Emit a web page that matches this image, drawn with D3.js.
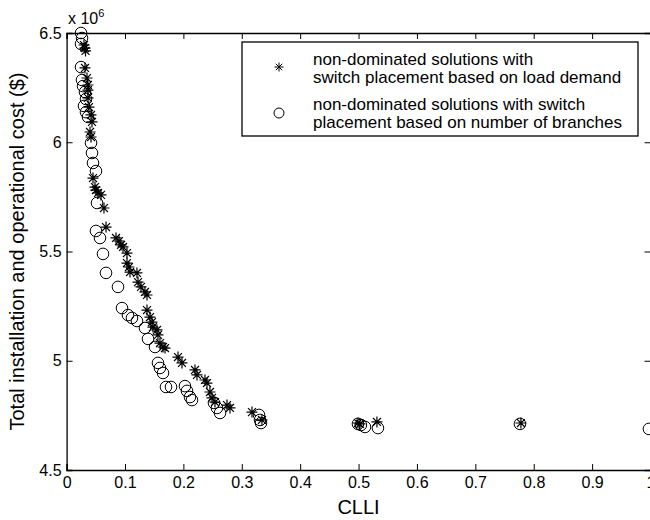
<!DOCTYPE html>
<html>
<head>
<meta charset="utf-8">
<script src="https://cdn.jsdelivr.net/npm/d3@7"></script>
<style>
  body { margin: 0; background: #fff; }
  text { font-family: "Liberation Sans", Arial, Helvetica, sans-serif; fill: #000; }
</style>
</head>
<body>
<div id="chart"></div>
<script>
// CLLI / cost pairs, cost in units of 10^6 $
var loadCLLI = [0.0298, 0.0315, 0.0324, 0.0315, 0.0349, 0.0366, 0.0366, 0.0366, 0.0384, 0.0418,
  0.0435, 0.0401, 0.0418, 0.0452, 0.0486, 0.0503, 0.0538, 0.0589, 0.0640, 0.0675,
  0.0846, 0.0897, 0.0932, 0.0966, 0.1034, 0.1034, 0.1068, 0.1086, 0.1205, 0.1223,
  0.1274, 0.1342, 0.1377, 0.1377, 0.1428, 0.1462, 0.1479, 0.1548, 0.1565, 0.1599,
  0.1651, 0.1685, 0.1908, 0.1976, 0.2199, 0.2233, 0.2370, 0.2404, 0.2455, 0.2490,
  0.2541, 0.2747, 0.2798, 0.3175, 0.3346, 0.4990, 0.5024, 0.5315, 0.7781];
var loadCost = [6.445, 6.431, 6.418, 6.340, 6.294, 6.262, 6.239, 6.203, 6.161, 6.125,
  6.093, 6.047, 6.024, 5.836, 5.795, 5.781, 5.768, 5.759, 5.699, 5.612,
  5.562, 5.548, 5.530, 5.521, 5.493, 5.447, 5.429, 5.406, 5.402, 5.360,
  5.338, 5.315, 5.301, 5.232, 5.200, 5.177, 5.154, 5.141, 5.118, 5.081,
  5.063, 5.058, 5.017, 4.990, 4.958, 4.935, 4.912, 4.898, 4.857, 4.830,
  4.811, 4.797, 4.784, 4.765, 4.729, 4.715, 4.711, 4.720, 4.715];

var branchCLLI = [0.0247, 0.0264, 0.0247, 0.0247, 0.0264, 0.0281, 0.0315, 0.0332, 0.0298, 0.0332,
  0.0366, 0.0418, 0.0435, 0.0452, 0.0503, 0.0521, 0.0503, 0.0572, 0.0623, 0.0675,
  0.0880, 0.0949, 0.1051, 0.1120, 0.1205, 0.1342, 0.1394, 0.1514, 0.1565, 0.1599,
  0.1651, 0.1702, 0.1788, 0.2027, 0.2062, 0.2113, 0.2147, 0.2524, 0.2575, 0.2627,
  0.3295, 0.3312, 0.3329, 0.4990, 0.5040, 0.5110, 0.5332, 0.7764, 0.9973];
var branchCost = [6.500, 6.477, 6.450, 6.344, 6.285, 6.257, 6.230, 6.198, 6.166, 6.138,
  6.116, 5.997, 5.951, 5.905, 5.868, 5.722, 5.594, 5.562, 5.489, 5.402,
  5.338, 5.241, 5.209, 5.196, 5.182, 5.150, 5.100, 5.063, 4.990, 4.967,
  4.944, 4.880, 4.880, 4.884, 4.862, 4.834, 4.820, 4.807, 4.784, 4.761,
  4.752, 4.729, 4.715, 4.711, 4.706, 4.697, 4.692, 4.711, 4.688];

var xTicks = [0, 0.1, 0.2, 0.3, 0.4, 0.5, 0.6, 0.7, 0.8, 0.9, 1];
var yTicks = [4.5, 5, 5.5, 6, 6.5];
var legendLines = [
  ["non-dominated solutions with", "switch placement based on load demand"],
  ["non-dominated solutions with switch", "placement based on number of branches"]
];

var svgWidth = 650;
var svgHeight = 520;
var margin = { top: 33, right: -0.5, bottom: 50, left: 66.6 };
var width = svgWidth - margin.left - margin.right;
var height = svgHeight - margin.top - margin.bottom;

var svg = d3.select("#chart")
  .append("svg")
  .attr("width", svgWidth)
  .attr("height", svgHeight);

var chartGroup = svg.append("g")
  .attr("transform", `translate(${margin.left}, ${margin.top})`);

var xScale = d3.scaleLinear().domain([0, 1]).range([0, width]);
var yScale = d3.scaleLinear().domain([4.5, 6.5]).range([height, 0]);

// asterisk marker: plus + x
function starPath(s) {
  var d = s * 0.72;
  return `M${-s},0L${s},0M0,${-s}L0,${s}M${-d},${-d}L${d},${d}M${-d},${d}L${d},${-d}`;
}

// axes with inward ticks, matlab style box
var bottomAxis = d3.axisBottom(xScale).tickValues(xTicks).tickSize(-6).tickPadding(7)
  .tickFormat(d3.format("~g"));
var leftAxis = d3.axisLeft(yScale).tickValues(yTicks).tickSize(-6).tickPadding(5)
  .tickFormat(d3.format("~g"));
var topAxis = d3.axisTop(xScale).tickValues(xTicks).tickSize(-6).tickFormat("");
var rightAxis = d3.axisRight(yScale).tickValues(yTicks).tickSize(-6).tickFormat("");

chartGroup.append("g")
  .attr("transform", `translate(0, ${height})`)
  .call(bottomAxis)
  .attr("font-size", 16);
chartGroup.append("g")
  .call(leftAxis)
  .attr("font-size", 16);
chartGroup.append("g").call(topAxis);
chartGroup.append("g").attr("transform", `translate(${width}, 0)`).call(rightAxis);

chartGroup.selectAll(".domain").attr("stroke", "#000").attr("stroke-width", 1.3);
chartGroup.selectAll(".tick line").attr("stroke", "#000");
chartGroup.selectAll(".tick text").attr("font-family", "Liberation Sans, Arial, sans-serif");

// points
var loadData = loadCLLI.map((v, i) => ({ x: v, y: loadCost[i] }));
var branchData = branchCLLI.map((v, i) => ({ x: v, y: branchCost[i] }));

chartGroup.selectAll(".branch")
  .data(branchData)
  .enter()
  .append("circle")
  .attr("class", "branch")
  .attr("cx", d => xScale(d.x))
  .attr("cy", d => yScale(d.y))
  .attr("r", 5.8)
  .attr("fill", "none")
  .attr("stroke", "#000")
  .attr("stroke-width", 1);

chartGroup.selectAll(".load")
  .data(loadData)
  .enter()
  .append("path")
  .attr("class", "load")
  .attr("transform", d => `translate(${xScale(d.x)}, ${yScale(d.y)})`)
  .attr("d", starPath(5.5))
  .attr("fill", "none")
  .attr("stroke", "#000")
  .attr("stroke-width", 1.2);

// exponent label
var expLabel = svg.append("text")
  .attr("x", 68)
  .attr("y", 24)
  .attr("font-size", 16);
expLabel.append("tspan").text("x 10");
expLabel.append("tspan").attr("font-size", 11).attr("dy", -7).text("6");

// axis titles
svg.append("text")
  .attr("x", margin.left + width / 2)
  .attr("y", 514)
  .attr("text-anchor", "middle")
  .attr("font-size", 20)
  .text("CLLI");

svg.append("text")
  .attr("transform", `translate(24, ${margin.top + height / 2}) rotate(-90)`)
  .attr("text-anchor", "middle")
  .attr("font-size", 20)
  .text("Total installation and operational cost ($)");

// legend
var legend = svg.append("g");
legend.append("rect")
  .attr("x", 242)
  .attr("y", 42)
  .attr("width", 396)
  .attr("height", 94)
  .attr("fill", "#fff")
  .attr("stroke", "#000")
  .attr("stroke-width", 1.3);

legend.append("path")
  .attr("transform", "translate(279, 67)")
  .attr("d", starPath(4.5))
  .attr("fill", "none")
  .attr("stroke", "#000");
legend.append("circle")
  .attr("cx", 279)
  .attr("cy", 113)
  .attr("r", 5)
  .attr("fill", "none")
  .attr("stroke", "#000");

var baselines = [[65, 83], [110, 128]];
legendLines.forEach(function(lines, i) {
  lines.forEach(function(line, j) {
    legend.append("text")
      .attr("x", 313)
      .attr("y", baselines[i][j])
      .attr("font-size", 17)
      .text(line);
  });
});
</script>
</body>
</html>
